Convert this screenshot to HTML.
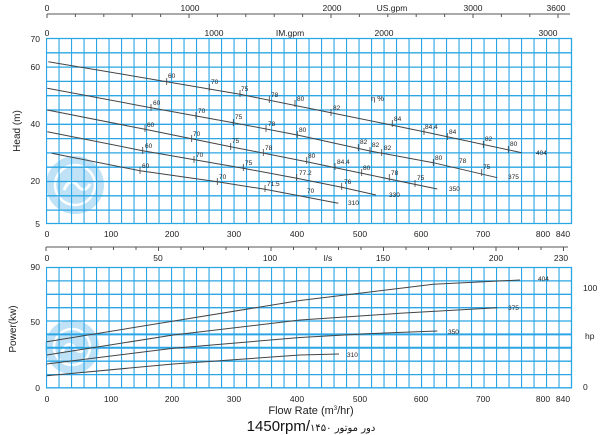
<!DOCTYPE html><html><head><meta charset="utf-8"><style>body{margin:0;background:#fff}svg{display:block;font-family:"Liberation Sans",sans-serif}</style></head><body>
<svg width="600" height="435" viewBox="0 0 600 435" xmlns="http://www.w3.org/2000/svg">
<defs>
<pattern id="gv" x="46" y="0" width="12.5" height="10" patternUnits="userSpaceOnUse"><rect x="0" y="0" width="1.1" height="10" fill="#2aa6e6"/></pattern>
</defs>
<circle cx="75" cy="185" r="29" fill="#bfe2f7"/><circle cx="75" cy="185" r="20" fill="none" stroke="#fff" stroke-width="2.5"/><path d="M64 190 q6-14 14-4 q6 8 12-2" fill="none" stroke="#fff" stroke-width="3"/>
<circle cx="72" cy="347" r="27" fill="#bfe2f7"/><circle cx="72" cy="347" r="18" fill="none" stroke="#fff" stroke-width="2.5"/><path d="M62 352 q6-13 13-4 q6 8 11-2" fill="none" stroke="#fff" stroke-width="3"/>
<rect x="46" y="38" width="526" height="186" fill="url(#gv)"/>
<g stroke="#2aa6e6" stroke-width="1.3">
<line x1="46" y1="38.5" x2="572" y2="38.5"/><line x1="46" y1="52.8" x2="572" y2="52.8"/><line x1="46" y1="67.1" x2="572" y2="67.1"/><line x1="46" y1="81.4" x2="572" y2="81.4"/><line x1="46" y1="95.7" x2="572" y2="95.7"/><line x1="46" y1="110" x2="572" y2="110"/><line x1="46" y1="124.3" x2="572" y2="124.3"/><line x1="46" y1="138.6" x2="572" y2="138.6"/><line x1="46" y1="152.9" x2="572" y2="152.9"/><line x1="46" y1="167.2" x2="572" y2="167.2"/><line x1="46" y1="181.5" x2="572" y2="181.5"/><line x1="46" y1="195.8" x2="572" y2="195.8"/><line x1="46" y1="210.1" x2="572" y2="210.1"/><line x1="46" y1="223.5" x2="572" y2="223.5"/>
<line x1="571.5" y1="38" x2="571.5" y2="224"/>
</g>
<rect x="46" y="267" width="526" height="121" fill="url(#gv)"/>
<g stroke="#2aa6e6" stroke-width="1.3">
<line x1="46" y1="267.5" x2="572" y2="267.5"/><line x1="46" y1="280.9" x2="572" y2="280.9"/><line x1="46" y1="294.3" x2="572" y2="294.3"/><line x1="46" y1="307.7" x2="572" y2="307.7"/><line x1="46" y1="321" x2="572" y2="321"/><line x1="46" y1="334.4" x2="572" y2="334.4" stroke-width="2"/><line x1="46" y1="347.8" x2="572" y2="347.8" stroke-width="2"/><line x1="46" y1="361.2" x2="572" y2="361.2"/><line x1="46" y1="374.6" x2="572" y2="374.6"/><line x1="46" y1="387.8" x2="572" y2="387.8"/>
<line x1="571.5" y1="267" x2="571.5" y2="388"/>
</g>
<g stroke="#555" stroke-width="1" fill="none">
<line x1="47" y1="14" x2="570" y2="14"/>
<path d="M47 14v4M75.4 14v3M103.8 14v3M132.2 14v3M160.6 14v3M189 14v4M217.4 14v3M245.8 14v3M274.2 14v3M302.6 14v3M331 14v4M359.4 14v3M387.8 14v3M416.2 14v3M444.6 14v3M473 14v4M501.4 14v3M529.8 14v3M558 14v4"/>
<line x1="46" y1="247" x2="568" y2="247"/>
<path d="M46 247v4M68.5 247v3M91 247v3M113.5 247v3M136 247v3M158.5 247v4M181 247v3M203.5 247v3M226 247v3M248.5 247v3M271 247v4M293.5 247v3M316 247v3M338.5 247v3M361 247v3M383.5 247v4M406 247v3M428.5 247v3M451 247v3M473.5 247v3M496 247v4M518.5 247v3M541 247v3M563.5 247v4"/>
</g>
<g font-size="8.5" fill="#222" text-anchor="middle">
<text x="47" y="11">0</text><text x="190" y="11">1000</text><text x="332" y="11">2000</text><text x="392" y="11">US.gpm</text><text x="473" y="11">3000</text><text x="556" y="11">3600</text>
<text x="47" y="36">0</text><text x="214" y="36">1000</text><text x="290" y="36">IM.gpm</text><text x="384" y="36">2000</text><text x="548" y="36">3000</text>
<text x="47" y="237">0</text><text x="111" y="237">100</text><text x="172" y="237">200</text><text x="234" y="237">300</text><text x="297" y="237">400</text><text x="360" y="237">500</text><text x="421" y="237">600</text><text x="483" y="237">700</text><text x="543" y="237">800</text><text x="563" y="237">840</text>
<text x="47" y="261">0</text><text x="158" y="261">50</text><text x="270" y="261">100</text><text x="328" y="261">l/s</text><text x="383" y="261">150</text><text x="496" y="261">200</text><text x="561" y="261">230</text>
<text x="47" y="402">0</text><text x="111" y="402">100</text><text x="172" y="402">200</text><text x="234" y="402">300</text><text x="297" y="402">400</text><text x="360" y="402">500</text><text x="421" y="402">600</text><text x="483" y="402">700</text><text x="543" y="402">800</text><text x="563" y="402">840</text>
</g>
<g font-size="8.5" fill="#222" text-anchor="end">
<text x="40" y="42">70</text><text x="40" y="70">60</text><text x="40" y="127">40</text><text x="40" y="184">20</text><text x="40" y="227">5</text>
<text x="40" y="270">90</text><text x="40" y="325">50</text><text x="40" y="391">0</text>
</g>
<g font-size="8.5" fill="#222">
<text x="583" y="291">100</text><text x="585" y="339">hp</text><text x="583" y="390">0</text>
</g>
<text transform="translate(20,131) rotate(-90)" font-size="10" text-anchor="middle" fill="#222">Head (m)</text>
<text transform="translate(16,329) rotate(-90)" font-size="10" text-anchor="middle" fill="#222">Power(kw)</text>
<text x="311" y="414" font-size="11" text-anchor="middle" fill="#222">Flow Rate (m<tspan font-size="6" dy="-4">3</tspan><tspan dy="4">/hr)</tspan></text>
<text x="311" y="431" font-size="15" text-anchor="middle" fill="#111">1450rpm/<tspan font-family="'DejaVu Sans',sans-serif" font-size="10">دور موتور ۱۴۵۰</tspan></text>
<g stroke="#444" stroke-width="1" fill="none">
<polyline points="48.3,61.7 166.7,81.7 240,94.3 331,112.7 424,131.7 521.7,152.7"/>
<polyline points="47.3,88.3 151,107.7 233.3,122.7 297.3,135 370,151 433.3,162.7 497.3,177.7"/>
<polyline points="47.3,110 145,129.3 230.7,146.7 306.7,161.7 361.7,173.3 437.3,189"/>
<polyline points="47.3,131.7 142.7,150.7 243.3,168.3 296.7,178.3 341.7,187.3 376,195"/>
<polyline points="51.7,153.3 140,170.7 217.3,181.7 265,189.3 338.3,203.3"/>
<polyline points="46.7,341.7 180,320 300,300.5 433.3,284.3 520,280"/>
<polyline points="46.7,355 173.3,335 300,320 400,313.3 497.3,307.7"/>
<polyline points="46.7,364 173.3,348.3 300,337.5 366.7,333.7 437.3,331"/>
<polyline points="46.7,375.7 173.3,364 300,355 339,354"/>
</g>
<g stroke="#444" stroke-width="0.8">
<path d="M166.7 78v7M209.3 84v7M240 90v7M269.3 96v7M295 100v7M331 109v7M392.3 120v7M424 128v7M447.3 133v7M483.3 141v7M508.3 146v7"/>
<path d="M151 104v7M196 112v7M233.3 119v7M266 125v7M297.3 131v7M358.3 144v7M370 147v7M381.7 149v7M433.3 159v7M481.7 169v7"/>
<path d="M145 125v7M191.7 135v7M230.7 143v7M263.3 149v7M306.7 157v7M335 163v7M361.7 169v7M389.3 174v7M415 180v7"/>
<path d="M142.7 147v7M194 156v7M243.3 164v7M296.7 174v7M341.7 183v7"/>
<path d="M140 167v7M217.3 178v7M265 185v7"/>
</g>
<g font-size="6.5" fill="#222">
<text x="168" y="78">60</text><text x="211" y="84">70</text><text x="241" y="91">75</text><text x="271" y="97">78</text><text x="297" y="101">80</text><text x="333" y="110">82</text><text x="394" y="121">84</text><text x="425" y="129">84.4</text><text x="449" y="134">84</text><text x="485" y="141">82</text><text x="510" y="146">80</text>
<text x="153" y="105">60</text><text x="198" y="113">70</text><text x="235" y="119">75</text><text x="268" y="126">78</text><text x="299" y="132">80</text><text x="360" y="144">82</text><text x="372" y="147">82</text><text x="384" y="150">82</text><text x="435" y="160">80</text><text x="459" y="163">78</text><text x="483" y="169">75</text>
<text x="147" y="127">60</text><text x="193" y="136">70</text><text x="232" y="143">75</text><text x="265" y="150">78</text><text x="308" y="158">80</text><text x="337" y="164">84.4</text><text x="363" y="170">80</text><text x="391" y="175">78</text><text x="417" y="180">75</text>
<text x="145" y="148">60</text><text x="196" y="157">70</text><text x="245" y="165">75</text><text x="299" y="175">77.2</text><text x="344" y="184">76</text>
<text x="142" y="168">60</text><text x="219" y="179">70</text><text x="267" y="186">71.5</text><text x="307" y="193">70</text>
<text x="371" y="101" font-size="7.5">η %</text>
<text x="536" y="155">404</text><text x="508" y="179">375</text><text x="449" y="191">350</text><text x="389" y="197">330</text><text x="348" y="205">310</text>
<text x="538" y="281">404</text><text x="508" y="310">375</text><text x="448" y="334">350</text><text x="347" y="357">310</text>
</g>
</svg>
</body></html>
